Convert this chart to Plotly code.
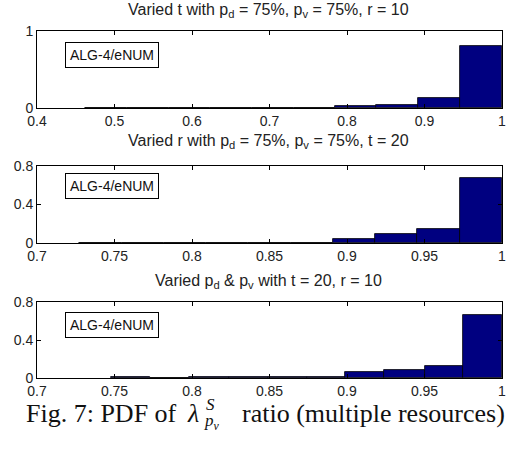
import plotly.graph_objects as go

# Histogram bin edges and normalised counts for each experiment
edges_t = [0.462, 0.516, 0.570, 0.623, 0.677, 0.731, 0.785, 0.838, 0.892, 0.946, 1.0]
pdf_t = [0.004, 0.002, 0.003, 0.002, 0.002, 0.003, 0.026, 0.043, 0.126, 0.800]

edges_r = [0.727, 0.755, 0.782, 0.809, 0.836, 0.864, 0.891, 0.918, 0.945, 0.973, 1.0]
pdf_r = [0.004, 0.004, 0.0, 0.004, 0.004, 0.004, 0.039, 0.098, 0.150, 0.677]

edges_p = [0.748, 0.773, 0.798, 0.824, 0.849, 0.874, 0.899, 0.924, 0.950, 0.975, 1.0]
pdf_p = [0.006, 0.0, 0.012, 0.012, 0.012, 0.012, 0.063, 0.081, 0.126, 0.667]

titles = [
    "Varied t with p<sub>d</sub> = 75%, p<sub>v</sub> = 75%, r = 10",
    "Varied r with p<sub>d</sub> = 75%, p<sub>v</sub> = 75%, t = 20",
    "Varied p<sub>d</sub> & p<sub>v</sub> with t = 20, r = 10",
]
x_ranges = [[0.4, 1.0], [0.7, 1.0], [0.7, 1.0]]
x_ticks = [
    [0.4, 0.5, 0.6, 0.7, 0.8, 0.9, 1.0],
    [0.7, 0.75, 0.8, 0.85, 0.9, 0.95, 1.0],
    [0.7, 0.75, 0.8, 0.85, 0.9, 0.95, 1.0],
]
x_tick_text = [
    ["0.4", "0.5", "0.6", "0.7", "0.8", "0.9", "1"],
    ["0.7", "0.75", "0.8", "0.85", "0.9", "0.95", "1"],
    ["0.7", "0.75", "0.8", "0.85", "0.9", "0.95", "1"],
]
y_ranges = [[0, 1.0], [0, 0.8], [0, 0.8]]
y_ticks = [[0, 1], [0, 0.4, 0.8], [0, 0.4, 0.8]]
y_tick_text = [["0", "1"], ["0", "0.4", "0.8"], ["0", "0.4", "0.8"]]
legend_label = "ALG-4/eNUM"
caption_parts = ["Fig. 7: PDF of", "<i>λ</i>", "<i>S</i>", "<i>p<sub>v</sub></i>",
                 "ratio (multiple resources)"]

W, H = 507, 452
# panel boxes in pixels: (top, bottom)
panel_px = [(31, 108), (166, 243), (302, 378)]
x_px = (37, 502)


def fx(px):
    return px / W


def fy(py):
    return 1 - py / H


fig = go.Figure()
hist_data = [(edges_t, pdf_t), (edges_r, pdf_r), (edges_p, pdf_p)]

tick_font = dict(family="Liberation Sans, Arial", size=14, color="#222")

for i, (edges, vals) in enumerate(hist_data):
    n = i + 1
    centers = [(a + b) / 2 for a, b in zip(edges[:-1], edges[1:])]
    widths = [b - a for a, b in zip(edges[:-1], edges[1:])]
    fig.add_trace(go.Bar(
        x=centers, y=vals, width=widths,
        marker=dict(color="#000080", line=dict(color="#000000", width=0.8)),
        xaxis="x" if n == 1 else f"x{n}",
        yaxis="y" if n == 1 else f"y{n}",
        showlegend=False,
    ))
    top, bot = panel_px[i]
    ax = dict(
        domain=[fx(x_px[0]), fx(x_px[1])], range=x_ranges[i],
        tickvals=x_ticks[i], ticktext=x_tick_text[i],
        ticks="inside", ticklen=4, tickcolor="#000",
        showline=True, linecolor="#000", linewidth=1, mirror="ticks",
        showgrid=False, zeroline=False, tickfont=tick_font, automargin=False,
        anchor="y" if n == 1 else f"y{n}",
    )
    ay = dict(
        domain=[fy(bot), fy(top)], range=y_ranges[i],
        tickvals=y_ticks[i], ticktext=y_tick_text[i],
        ticks="inside", ticklen=4, tickcolor="#000",
        showline=True, linecolor="#000", linewidth=1, mirror="ticks",
        showgrid=False, zeroline=False, tickfont=tick_font, automargin=False,
        anchor="x" if n == 1 else f"x{n}",
    )
    fig.layout["xaxis" if n == 1 else f"xaxis{n}"] = ax
    fig.layout["yaxis" if n == 1 else f"yaxis{n}"] = ay

annotations = []
title_y = [11, 142, 281]
box_y = [54.5, 186, 324.5]
for i in range(3):
    annotations.append(dict(
        text=titles[i], xref="paper", yref="paper",
        x=fx(268), y=fy(title_y[i]), xanchor="center", yanchor="middle",
        showarrow=False, font=dict(family="Liberation Sans, Arial", size=16, color="#222"),
    ))
    annotations.append(dict(
        text=legend_label, xref="paper", yref="paper",
        x=fx(111.5), y=fy(box_y[i]), xanchor="center", yanchor="middle",
        showarrow=False, font=dict(family="Liberation Sans, Arial", size=14, color="#111"),
        bordercolor="#000", borderwidth=1, borderpad=4, bgcolor="#fff",
    ))

# Figure caption with the lambda symbol's super/subscripts placed beside it
cap_font = dict(family="Liberation Serif, Times New Roman", size=26, color="#111")
sub_font = dict(family="Liberation Serif, Times New Roman", size=17, color="#111")
cap_y = 413
annotations += [
    dict(text=caption_parts[0], xref="paper", yref="paper", x=fx(24), y=fy(cap_y),
         xanchor="left", yanchor="middle", showarrow=False, font=cap_font),
    dict(text=caption_parts[1], xref="paper", yref="paper", x=fx(185), y=fy(cap_y),
         xanchor="left", yanchor="middle", showarrow=False, font=cap_font),
    dict(text=caption_parts[2], xref="paper", yref="paper", x=fx(204), y=fy(cap_y - 9),
         xanchor="left", yanchor="middle", showarrow=False, font=sub_font),
    dict(text=caption_parts[3], xref="paper", yref="paper", x=fx(202), y=fy(cap_y + 9),
         xanchor="left", yanchor="middle", showarrow=False, font=sub_font),
    dict(text=caption_parts[4], xref="paper", yref="paper", x=fx(240), y=fy(cap_y),
         xanchor="left", yanchor="middle", showarrow=False, font=cap_font),
]

fig.update_layout(
    width=W, height=H, margin=dict(l=0, r=0, t=0, b=0, autoexpand=False),
    paper_bgcolor="#fff", plot_bgcolor="#fff",
    annotations=annotations, bargap=0,
)

fig.write_html("out.html", config={"displayModeBar": False})
